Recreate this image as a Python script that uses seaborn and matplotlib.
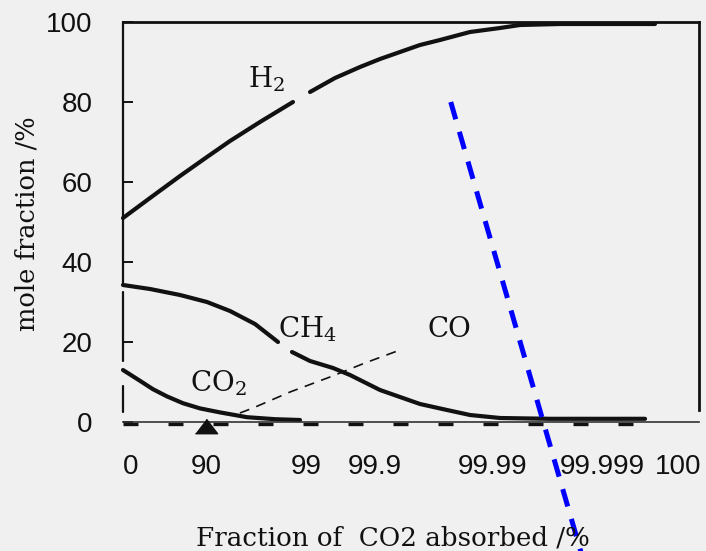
import numpy as np
import pandas as pd
import matplotlib
matplotlib.use("Agg")
import matplotlib.pyplot as plt
import seaborn as sns

# Positions along the (hand-scaled) absorption axis, 0-100 across the plot box
tick_pos = [1.4, 14.4, 31.8, 43.75, 64.1, 83.3, 96.35]
tick_labels = ["0", "90", "99", "99.9", "99.99", "99.999", "100"]

# H2 (two pieces, the label sits in the break)
h2_pos_a = [0, 4.69, 9.90, 14.58, 18.58, 23.78, 29.51]
h2_val_a = [51.0, 56.0, 61.5, 66.25, 70.25, 75.0, 80.0]
h2_pos_b = [32.47, 36.81, 41.15, 44.62, 48.09, 51.56, 55.03, 60.24, 65.45, 68.92, 75.87, 92.36]
h2_val_b = [82.5, 86.0, 88.75, 90.75, 92.5, 94.25, 95.5, 97.5, 98.5, 99.25, 99.5, 99.5]

# CH4
ch4_pos_a = [0, 4.69, 9.90, 14.58, 18.58, 22.92, 26.91]
ch4_val_a = [34.25, 33.25, 31.75, 30.0, 27.75, 24.5, 20.0]
ch4_pos_b = [29.34, 32.47, 36.46, 39.41, 44.62, 48.09, 51.56, 56.25, 60.24, 65.45, 74.13, 90.63]
ch4_val_b = [17.5, 15.25, 13.5, 11.75, 8.0, 6.25, 4.5, 3.0, 1.75, 1.0, 0.8, 0.8]

# CO2
co2_pos = [0, 2.95, 5.2, 7.64, 10.4, 13.37, 16.84, 21.53, 26.39, 30.73]
co2_val = [13.0, 10.3, 8.2, 6.4, 4.7, 3.4, 2.4, 1.2, 0.7, 0.5]

# CO (dashed)
co_pos = [20.3, 22.57, 29.0, 35.94, 42.0, 48.09]
co_val = [2.25, 3.5, 7.5, 11.25, 14.75, 18.0]

# near-zero species drawn along the base
base_pos = [0, 92.0]
base_val = [-0.5, -0.5]

# marker at 90 %
marker_pos = [14.4]
marker_val = [-0.9]

# blue guide line
guide_pos = [56.9, 79.9]
guide_val = [80.0, -34.5]

bg = "#f0f0f0"
sns.set_theme(style="white", rc={"axes.facecolor": bg, "figure.facecolor": bg})
plt.rcParams["mathtext.default"] = "regular"

fig = plt.figure(figsize=(7.06, 5.51), dpi=100)
W, H = 706, 551
left_px, right_px, top_px, bot_px = 123, 699, 22, 422
ax = fig.add_axes([left_px / W, (H - bot_px) / H,
                   (right_px - left_px) / W, (bot_px - top_px) / H])
ax.set_facecolor(bg)

lw = 3.0
for p, v in [(h2_pos_a, h2_val_a), (h2_pos_b, h2_val_b),
             (ch4_pos_a, ch4_val_a), (ch4_pos_b, ch4_val_b),
             (co2_pos, co2_val)]:
    sns.lineplot(x=p, y=v, ax=ax, color="#111111", lw=lw, sort=False,
                 estimator=None, clip_on=False)

sns.lineplot(x=co_pos, y=co_val, ax=ax, color="#111111", lw=1.2,
             linestyle=(0, (6, 4.5)), sort=False, estimator=None)
sns.lineplot(x=base_pos, y=base_val, ax=ax, color="#111111", lw=2.4,
             linestyle=(0, (4.5, 9)), sort=False, estimator=None, clip_on=False)

tri = [(-1, -0.65), (1, -0.65), (0, 0.65)]
ax.plot(marker_pos, marker_val, linestyle="none", marker=tri, ms=16,
        color="#111111", clip_on=False, zorder=5)

ax.plot(guide_pos, guide_val, color="#0000ff", lw=3.6,
        linestyle=(0, (3.6, 2.6)), clip_on=False, zorder=6)

ax.set_xlim(0, 100)
ax.set_ylim(0, 100)
ax.set_xlabel("")
ax.set_ylabel("")

sans = ["Liberation Sans", "DejaVu Sans"]
serif = ["DejaVu Serif"]

ax.set_yticks([0, 20, 40, 60, 80, 100])
ax.set_yticklabels(["0", "20", "40", "60", "80", "100"], family=sans, fontsize=20)
ax.set_xticks(tick_pos)
ax.set_xticklabels(tick_labels, family=sans, fontsize=20)
ax.tick_params(axis="y", direction="in", length=7, width=1.4, color="#111111",
               pad=22, labelcolor="#111111", left=True)
ax.tick_params(axis="x", length=0, pad=23, labelcolor="#111111", bottom=True)

# frame
for s in ["top", "right"]:
    ax.spines[s].set_color("#111111")
    ax.spines[s].set_linewidth(2.0)
ax.spines["right"].set_bounds(3, 100)
ax.spines["bottom"].set_color("#333333")
ax.spines["bottom"].set_linewidth(1.2)
ax.spines["left"].set_visible(False)
seg_lo = [34.5, 15.2, 2.5]
seg_hi = [100, 32.4, 9.0]
for lo, hi in zip(seg_lo, seg_hi):
    ax.plot([0, 0], [lo, hi], color="#111111", lw=1.6, clip_on=False, zorder=4)

# curve labels
lab_kw = dict(family=serif, fontsize=20, color="#111111", ha="left", va="baseline")
ax.text(21.7, 83.75, "H$_2$", **lab_kw)
ax.text(26.9, 21.25, "CH$_4$", **lab_kw)
ax.text(52.9, 21.25, "CO", **lab_kw)
ax.text(11.6, 7.5, "CO$_2$", **lab_kw)

fig.text(27 / W, 1 - 224 / H, "mole fraction /%", rotation=90, family=serif,
         fontsize=18.5, color="#111111", ha="center", va="center")
fig.text(393 / W, 1 - 545 / H, "Fraction of  CO2 absorbed /%", family=serif,
         fontsize=18.8, color="#111111", ha="center", va="baseline")

fig.savefig("out.png", dpi=100, facecolor=bg)
